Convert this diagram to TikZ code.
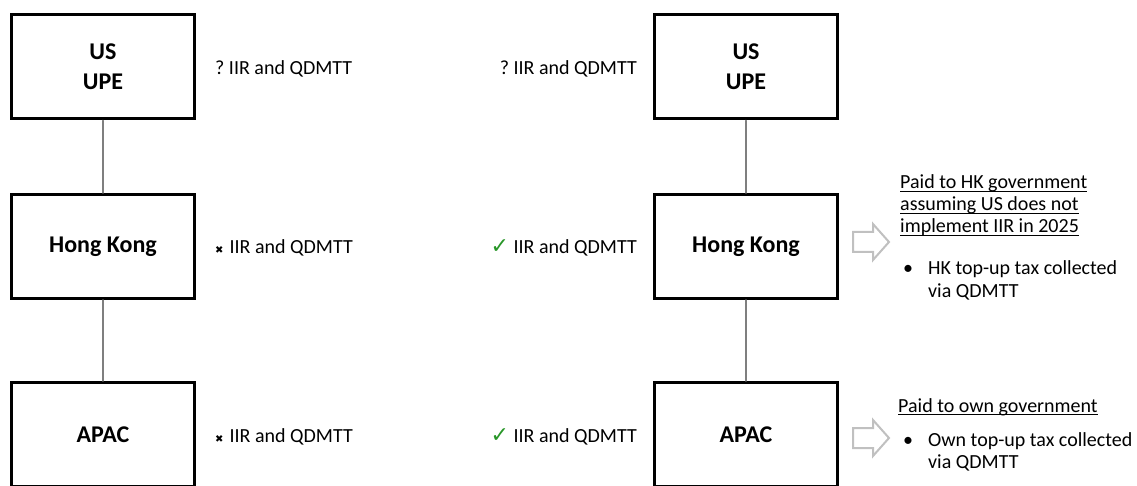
\documentclass[tikz,border=0pt]{standalone}
\usepackage{fontspec}
\setmainfont{Carlito}
\newfontfamily\symfont{DejaVu Sans}
\usetikzlibrary{positioning}
\definecolor{tickgreen}{RGB}{40,150,40}
\definecolor{linkgray}{RGB}{127,127,127}
\definecolor{arrowgray}{RGB}{192,192,192}
\newcommand{\cmark}{{\symfont\fontsize{22}{22}\selectfont\color{tickgreen}✓}}
\newcommand{\xmark}{{\symfont\fontsize{10}{10}\selectfont✖}\hspace{6pt}}
\newcommand{\ulline}[1]{\setbox0\hbox{#1}\rlap{\rule[-3pt]{\wd0}{1pt}}\box0}
\tikzset{
	entity/.style={draw, line width=3pt, minimum width=183, minimum height=104, inner sep=0,
		align=center, font=\fontsize{24}{30}\selectfont\bfseries},
	link/.style={draw=linkgray, line width=1.5pt},
	note/.style={inner sep=0, font=\fontsize{20}{20.5}\selectfont},
	remark/.style={inner sep=0, align=left, font=\fontsize{20}{22}\selectfont},
	hollow/.style={draw=arrowgray, line width=2pt, fill=white, line join=miter},
}
\begin{document}
\begin{tikzpicture}[x=1pt, y=-1pt, line cap=round]
	\useasboundingbox (0,0) rectangle (1137,486);
	\path
	(103,67)coordinate(Lus)
	(103,246.5)coordinate(Lhk)
	(103,434.5)coordinate(Lap)
	(746,67)coordinate(Rus)
	(746,246.5)coordinate(Rhk)
	(746,434.5)coordinate(Rap)
	(853,242)coordinate(Ahk)
	(853,438)coordinate(Aap)
	;
	% entities
	\node[entity] (lus) at (Lus) {US\\UPE};
	\node[entity] (lhk) at (Lhk) {Hong Kong};
	\node[entity] (lap) at (Lap) {APAC};
	\node[entity] (rus) at (Rus) {US\\UPE};
	\node[entity] (rhk) at (Rhk) {Hong Kong};
	\node[entity] (rap) at (Rap) {APAC};
	\draw[link] (lus)--(lhk)--(lap) (rus)--(rhk)--(rap);
	% rules in force
	\foreach \r/\m in {us/?\ , hk/\xmark, ap/\xmark}{
		\node[note, right=19pt of l\r.east, anchor=base west, yshift=-7.5pt] (ln\r) {\m IIR and QDMTT};}
	\foreach \r/\m in {us/?, hk/\cmark, ap/\cmark}{
		\node[note, left=16pt of r\r.west, anchor=base east, yshift=-7.5pt] (rn\r) {\m\ IIR and QDMTT};}
	% where the top-up tax goes
	\foreach \a in {Ahk, Aap}{
		\draw[hollow] (\a) ++(0,-10) -- ++(20,0) -- ++(0,-8) -- ++(16,18) -- ++(-16,18) -- ++(0,-8) -- ++(-20,0) -- cycle;}
	\node[remark, anchor=base west] (phk) at (900,233)
		{\ulline{Paid to HK government}\\\ulline{assuming US does not}\\\ulline{implement IIR in 2025}};
	\node[remark, anchor=base west] (bhk) at (903,275)
		{\begin{tabular}[t]{@{}l@{\hspace{15pt}}l@{}}•&HK top-up tax collected\\&via QDMTT\end{tabular}};
	\node[remark, anchor=base west] (pap) at (898,412) {\ulline{Paid to own government}};
	\node[remark, anchor=base west] (bap) at (903,446)
		{\begin{tabular}[t]{@{}l@{\hspace{15pt}}l@{}}•&Own top-up tax collected\\&via QDMTT\end{tabular}};
\end{tikzpicture}
\end{document}
